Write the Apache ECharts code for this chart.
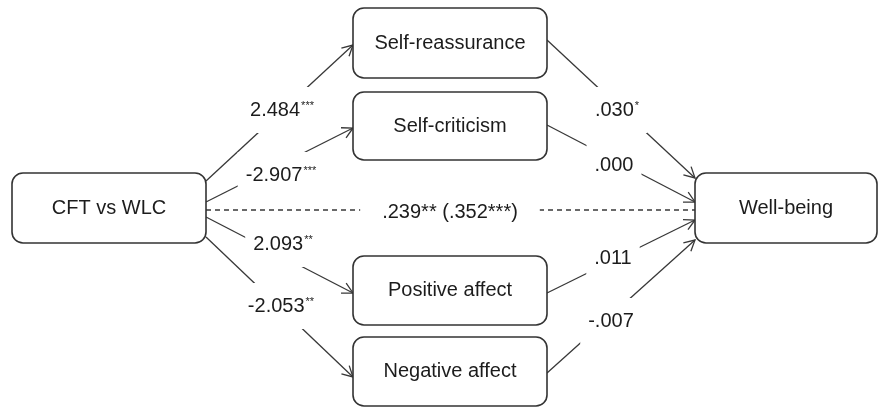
<!DOCTYPE html>
<html>
<head>
<meta charset="utf-8">
<script src="https://cdn.jsdelivr.net/npm/echarts@6/dist/echarts.min.js"></script>
<style>
html, body { margin: 0; padding: 0; background: #fff; }
#chart { width: 882px; height: 408px; }
</style>
</head>
<body>
<div id="chart"></div>
<script>
// boxes of the path model
const nodeNames = ['CFT vs WLC', 'Self-reassurance', 'Self-criticism', 'Positive affect', 'Negative affect', 'Well-being']
// a paths: CFT vs WLC -> mediators
const pathA = ['2.484', '-2.907', '2.093', '-2.053']
const pathAStars = ['***', '***', '**', '**']
// b paths: mediators -> Well-being
const pathB = ['.030', '.000', '.011', '-.007']
const pathBStars = ['*', '', '', '']
// direct effect (total effect)
const directEffect = '.239** (.352***)'

// layout in page pixels: [x, y, w, h]
const boxes = [
  [12, 173, 194, 70],
  [353, 8, 194, 70],
  [353, 92, 194, 68],
  [353, 256, 194, 69],
  [353, 337, 194, 69],
  [695, 173, 182, 70]
]
// where arrows leave / enter a box (y)
const aOut = [181, 202, 217, 237]
const aIn = [45, 128, 293, 377]
const bOut = [40, 125, 293, 373]
const bIn = [178, 202, 220, 240]
const directY = 210
// label centres
const aLabelPos = [[282, 110], [281, 175], [283, 244], [281, 306]]
const bLabelPos = [[617, 110], [614, 165], [613, 258], [611, 321]]
const directLabelPos = [450, 212]

const FONT = '"Liberation Sans", Arial, sans-serif'
const INK = '#1c1c1c'
const LINE = '#383838'

const edges = []
pathA.forEach((v, i) => {
  const src = boxes[0], dst = boxes[i + 1]
  edges.push({ from: [src[0] + src[2], aOut[i]], to: [dst[0], aIn[i]], dashed: false })
})
pathB.forEach((v, i) => {
  const src = boxes[i + 1], dst = boxes[5]
  edges.push({ from: [src[0] + src[2], bOut[i]], to: [dst[0], bIn[i]], dashed: false })
})
edges.push({ from: [boxes[0][0] + boxes[0][2], directY], to: [boxes[5][0], directY], dashed: true })

const labelData = []
pathA.forEach((v, i) => {
  labelData.push({ value: aLabelPos[i], label: { formatter: '{n|' + v + '}' + (pathAStars[i] ? '{s|' + pathAStars[i] + '}' : '') } })
})
pathB.forEach((v, i) => {
  labelData.push({ value: bLabelPos[i], label: { formatter: '{n|' + v + '}' + (pathBStars[i] ? '{s|' + pathBStars[i] + '}' : '') } })
})
labelData.push({ value: directLabelPos, label: { formatter: '{n|' + directEffect + '}', padding: [6, 22] } })

const chart = echarts.init(document.getElementById('chart'))

const option = {
  animation: false,
  grid: { left: 0, right: 0, top: 0, bottom: 0 },
  xAxis: { type: 'value', min: 0, max: 882, show: false },
  yAxis: { type: 'value', min: 0, max: 408, inverse: true, show: false },
  series: [
    {
      // arrows
      type: 'custom',
      z: 1,
      data: edges.map(e => e.from),
      renderItem: (params, api) => {
        const e = edges[params.dataIndex]
        const s = api.coord(e.from)
        const t = api.coord(e.to)
        const children = [{
          type: 'line',
          shape: { x1: s[0], y1: s[1], x2: t[0], y2: t[1] },
          style: { stroke: LINE, lineWidth: 1.3, lineDash: e.dashed ? [5, 4] : null }
        }]
        if (!e.dashed) {
          const a = Math.atan2(t[1] - s[1], t[0] - s[0])
          const L = 12, phi = 28 * Math.PI / 180
          children.push({
            type: 'polyline',
            shape: {
              points: [
                [t[0] - L * Math.cos(a - phi), t[1] - L * Math.sin(a - phi)],
                [t[0], t[1]],
                [t[0] - L * Math.cos(a + phi), t[1] - L * Math.sin(a + phi)]
              ]
            },
            style: { stroke: LINE, lineWidth: 1.3, fill: null }
          })
        }
        return { type: 'group', children }
      }
    },
    {
      // boxes
      type: 'custom',
      z: 2,
      data: boxes.map(b => [b[0], b[1]]),
      renderItem: (params, api) => {
        const b = boxes[params.dataIndex]
        const p1 = api.coord([b[0], b[1]])
        const p2 = api.coord([b[0] + b[2], b[1] + b[3]])
        return {
          type: 'group',
          children: [
            {
              type: 'rect',
              shape: { x: p1[0], y: p1[1], width: p2[0] - p1[0], height: p2[1] - p1[1], r: 11 },
              style: { fill: '#fff', stroke: '#333', lineWidth: 1.6 }
            },
            {
              type: 'text',
              style: {
                text: nodeNames[params.dataIndex],
                x: (p1[0] + p2[0]) / 2,
                y: (p1[1] + p2[1]) / 2,
                align: 'center',
                verticalAlign: 'middle',
                fontSize: 20,
                fontFamily: FONT,
                fill: INK
              }
            }
          ]
        }
      }
    },
    {
      // coefficients
      type: 'scatter',
      z: 5,
      symbolSize: 0,
      itemStyle: { opacity: 1 },
      data: labelData,
      label: {
        show: true,
        position: 'inside',
        backgroundColor: '#fff',
        padding: [12, 8],
        rich: {
          n: { fontSize: 20, fontFamily: FONT, color: INK, lineHeight: 22 },
          s: { fontSize: 11, fontFamily: FONT, color: INK, verticalAlign: 'top', padding: [1, 0, 0, 1] }
        }
      }
    }
  ]
}

chart.setOption(option)
window.addEventListener('resize', () => chart.resize())
</script>
</body>
</html>
